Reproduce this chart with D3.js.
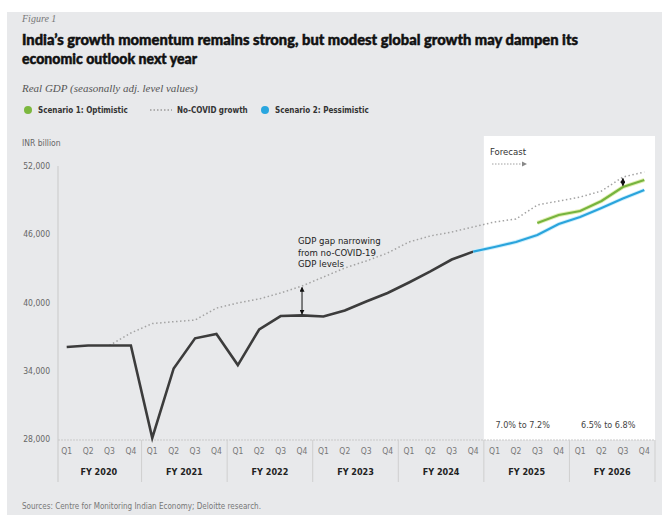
<!DOCTYPE html>
<html><head><meta charset="utf-8">
<script src="https://cdn.jsdelivr.net/npm/d3@7"></script>
<style>
html,body{margin:0;padding:0;background:#fff;}
svg{display:block;}
</style></head>
<body>
<svg id="c" width="662" height="515"></svg>
<script>
// ---------- DATA ----------
const fiscalYears = ["FY 2020","FY 2021","FY 2022","FY 2023","FY 2024","FY 2025","FY 2026"];
const quarterLabels = ["Q1","Q2","Q3","Q4"];
const yTicks = [28000, 34000, 40000, 46000, 52000];
// Actual real GDP, FY2020 Q1 .. FY2024 Q4 (INR billion)
const actual = [36090, 36220, 36220, 36220, 28090, 34200, 36850, 37230, 34500, 37640, 38810, 38870,
                38770, 39300, 40090, 40840, 41760, 42730, 43780, 44470];
// No-COVID growth path, from FY2020 Q3 .. FY2026 Q4
const noCovidStart = 2;
const noCovid = [36220, 37320, 38150, 38310, 38460, 39510, 39960, 40310, 40840, 41450, 42240, 43030,
                 43650, 44350, 45320, 45850, 46200, 46640, 47080, 47340, 48570, 48920, 49270, 49800,
                 51030, 51470];
// Scenario 2: Pessimistic, FY2024 Q4 .. FY2026 Q4
const pessStart = 19;
const pessimistic = [44470, 44880, 45320, 45930, 46900, 47520, 48310, 49140, 49890];
// Scenario 1: Optimistic, FY2025 Q3 .. FY2026 Q4
const optStart = 22;
const optimistic = [46990, 47690, 48040, 48920, 50150, 50770];
const growthLabels = ["7.0% to 7.2%", "6.5% to 6.8%"];
const gapIdx = [11, 26];

// ---------- BUILD ----------
const keys = [];
fiscalYears.forEach((fy, fi) => quarterLabels.forEach(q => keys.push(fy + "|" + q)));
const N = keys.length;
function expand(arr, start){ const o = new Array(N).fill(null); arr.forEach((v,i)=>o[start+i]=v); return o; }
const sActual = expand(actual, 0), sNo = expand(noCovid, noCovidStart),
      sPess = expand(pessimistic, pessStart), sOpt = expand(optimistic, optStart);

const svg = d3.select("#c");
const condensed = "'Liberation Sans Narrow','DejaVu Sans Condensed','Roboto',sans-serif";

// background
svg.append("rect").attr("x",7).attr("y",12).attr("width",655).attr("height",503).attr("fill","#e8e9eb");

const x = d3.scaleBand().domain(keys).range([56, 655]);
const y = d3.scaleLinear().domain([28000, 52000]).range([439, 166]);
const cx = k => x(k) + x.bandwidth()/2;

// forecast box
svg.append("rect")
  .attr("x", x(keys[20])).attr("y", 136)
  .attr("width", x.range()[1] - x(keys[20])).attr("height", 440 - 136)
  .attr("fill", "#ffffff");

// titles
svg.append("text").attr("x",22).attr("y",22).text("Figure 1")
  .attr("font-family","'Liberation Serif','DejaVu Serif',serif").attr("font-style","italic")
  .attr("font-size",10).attr("fill","#777");
const tFont = "'Lato','Inter',sans-serif";
svg.append("text").attr("x",22).attr("y",45)
  .text("India’s growth momentum remains strong, but modest global growth may dampen its")
  .attr("font-family",tFont).attr("font-weight",900).attr("font-size",15.5).attr("fill","#111")
  .attr("stroke","#111").attr("stroke-width",0.5)
  .attr("textLength",556).attr("lengthAdjust","spacingAndGlyphs");
svg.append("text").attr("x",22).attr("y",64)
  .text("economic outlook next year")
  .attr("font-family",tFont).attr("font-weight",900).attr("font-size",15.5).attr("fill","#111")
  .attr("stroke","#111").attr("stroke-width",0.5)
  .attr("textLength",175).attr("lengthAdjust","spacingAndGlyphs");
svg.append("text").attr("x",22).attr("y",92).text("Real GDP (seasonally adj. level values)")
  .attr("font-family","'Liberation Serif','DejaVu Serif',serif").attr("font-style","italic")
  .attr("font-size",11).attr("fill","#555");

// legend
const lg = svg.append("g").attr("font-family",condensed).attr("font-size",8).attr("font-weight",700).attr("fill","#333");
lg.append("circle").attr("cx",28).attr("cy",110).attr("r",4).attr("fill","#7cb83f");
lg.append("text").attr("x",38).attr("y",113).text("Scenario 1: Optimistic");
lg.append("line").attr("x1",150).attr("x2",172).attr("y1",110).attr("y2",110)
  .attr("stroke","#9a9a9a").attr("stroke-width",1.3).attr("stroke-dasharray","1.5,2");
lg.append("text").attr("x",177).attr("y",113).text("No-COVID growth");
lg.append("circle").attr("cx",265).attr("cy",110).attr("r",4).attr("fill","#29a6df");
lg.append("text").attr("x",275).attr("y",113).text("Scenario 2: Pessimistic");

// y axis
svg.append("text").attr("x",22).attr("y",146).text("INR billion")
  .attr("font-family",condensed).attr("font-size",8.5).attr("fill","#666");
const yAxis = d3.axisLeft(y).tickValues(yTicks).tickSize(0).tickPadding(8).tickFormat(d3.format(","));
const yg = svg.append("g").attr("transform","translate(58,0)").call(yAxis);
yg.select(".domain").remove();
yg.selectAll("text").attr("font-family",condensed).attr("font-size",8.5).attr("fill","#666");
svg.append("line").attr("x1",58).attr("x2",58).attr("y1",166).attr("y2",482)
  .attr("stroke","#c9c9c9").attr("stroke-width",1);

// x axis
svg.append("line").attr("x1",58).attr("x2",655).attr("y1",440).attr("y2",440)
  .attr("stroke","#c9c9c9").attr("stroke-width",1).attr("stroke-dasharray","2,1");
const xAxis = d3.axisBottom(x).tickSize(0).tickPadding(8).tickFormat(k => k.split("|")[1]);
const xg = svg.append("g").attr("transform","translate(0,440)").call(xAxis);
xg.select(".domain").remove();
xg.selectAll("text").attr("font-family",condensed).attr("font-size",8.5).attr("fill","#777");
fiscalYears.forEach((fy, fi) => {
  const k0 = keys[fi*4];
  const x0 = x(k0), x1 = x0 + 4*x.bandwidth();
  svg.append("text").attr("x",(x0+x1)/2).attr("y",475).attr("text-anchor","middle").text(fy)
    .attr("font-family",condensed).attr("font-size",9).attr("font-weight",700).attr("fill","#222");
  svg.append("line").attr("x1",x1).attr("x2",x1).attr("y1",440).attr("y2",482)
    .attr("stroke","#cfcfcf").attr("stroke-width",1);
});

// lines
const line = d3.line().defined(d => d.v !== null).x(d => cx(d.k)).y(d => y(d.v));
const toPts = s => keys.map((k,i)=>({k, v:s[i]}));
svg.append("path").datum(toPts(sNo)).attr("d",line).attr("fill","none")
  .attr("stroke","#a3a3a3").attr("stroke-width",1.5).attr("stroke-dasharray","1.5,2.5");
svg.append("path").datum(toPts(sActual)).attr("d",line).attr("fill","none")
  .attr("stroke","#3c3c3c").attr("stroke-width",2.6).attr("stroke-linejoin","miter");
svg.append("path").datum(toPts(sPess)).attr("d",line).attr("fill","none")
  .attr("stroke","#cdeffc").attr("stroke-width",4);
svg.append("path").datum(toPts(sPess)).attr("d",line).attr("fill","none")
  .attr("stroke","#2aa4dc").attr("stroke-width",2.2);
svg.append("path").datum(toPts(sOpt)).attr("d",line).attr("fill","none")
  .attr("stroke","#e3efb4").attr("stroke-width",4);
svg.append("path").datum(toPts(sOpt)).attr("d",line).attr("fill","none")
  .attr("stroke","#76b43e").attr("stroke-width",2.2);

// gap arrows
const defs = svg.append("defs");
defs.append("marker").attr("id","ah").attr("viewBox","0 0 6 6").attr("refX",5).attr("refY",3)
  .attr("markerWidth",5).attr("markerHeight",5).attr("orient","auto-start-reverse")
  .append("path").attr("d","M0,0L6,3L0,6Z").attr("fill","#111");
const lower = [sActual, sOpt];
gapIdx.forEach((gi, j) => {
  const k = keys[gi];
  svg.append("line").attr("x1",cx(k)).attr("x2",cx(k))
    .attr("y1", y(sNo[gi]) + 1.5).attr("y2", y(lower[j][gi]) - 1.5)
    .attr("stroke","#111").attr("stroke-width",1)
    .attr("marker-start","url(#ah)").attr("marker-end","url(#ah)");
});

// annotation
const ann = svg.append("text").attr("font-family",condensed).attr("font-size",9.5).attr("fill","#222");
["GDP gap narrowing","from no-COVID-19","GDP levels"].forEach((t,i)=>{
  ann.append("tspan").attr("x",298).attr("y",244 + i*11.5).text(t);
});

// forecast label
svg.append("text").attr("x",490).attr("y",155).text("Forecast")
  .attr("font-family",condensed).attr("font-size",9.5).attr("fill","#333");
svg.append("line").attr("x1",492).attr("x2",522).attr("y1",164).attr("y2",164)
  .attr("stroke","#888").attr("stroke-width",0.8).attr("stroke-dasharray","1.5,1.5");
svg.append("path").attr("d","M522,161.5L527,164L522,166.5Z").attr("fill","#888");

// growth range labels
growthLabels.forEach((t,i)=>{
  const fi = 5 + i;
  const x0 = x(keys[fi*4]), x1 = x0 + 4*x.bandwidth();
  svg.append("text").attr("x",(x0+x1)/2 - 4).attr("y",428).attr("text-anchor","middle").text(t)
    .attr("font-family",condensed).attr("font-size",9).attr("fill","#444");
});

// source
svg.append("text").attr("x",22).attr("y",509).text("Sources: Centre for Monitoring Indian Economy; Deloitte research.")
  .attr("font-family",condensed).attr("font-size",8).attr("fill","#777");
</script>
</body></html>
